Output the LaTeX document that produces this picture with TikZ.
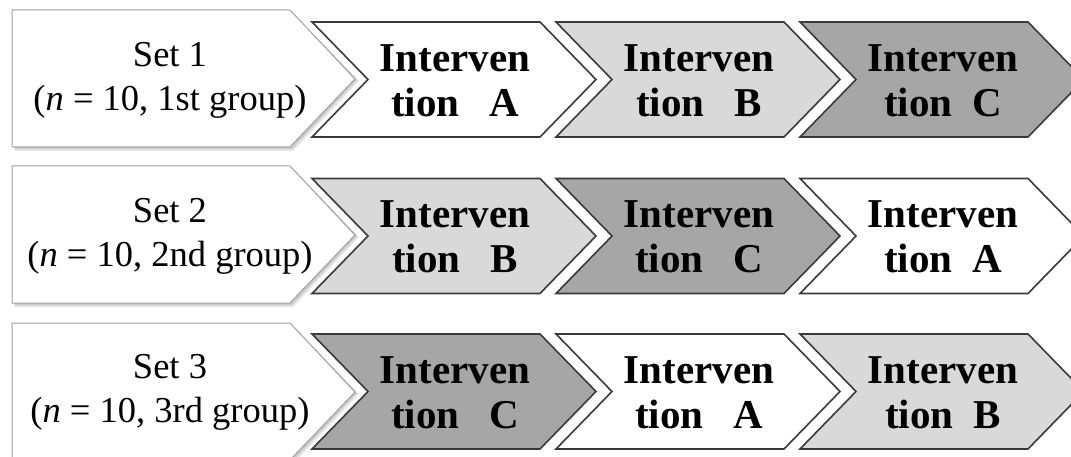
\documentclass[tikz,border=0pt]{standalone}
\usepackage{fontspec}
\setmainfont{Liberation Serif}
\definecolor{lightfill}{HTML}{D9D9D9}
\definecolor{darkfill}{HTML}{A6A6A6}
\definecolor{chevline}{HTML}{3A3A3A}
\definecolor{setline}{HTML}{A0A0A0}
\tikzset{
  chev/.style={draw=chevline, line width=1.6pt, line join=miter},
  setbox/.style={draw=setline, line width=1pt, fill=white},
  chevtext/.style={align=center, font=\fontsize{41}{45}\selectfont\bfseries, inner sep=0pt},
  settext/.style={align=center, font=\fontsize{36.5}{44}\selectfont, inner sep=0pt},
}
% #1 left x, #2 center y, #3 fill
\newcommand{\chevshape}[3]{%
  \path[chev, fill=#3] (#1,#2-57.5) -- (#1+228,#2-57.5) -- (#1+284,#2) -- (#1+228,#2+57.5)
    -- (#1,#2+57.5) -- (#1+56,#2) -- cycle;}
\newcommand{\setshape}[2]{%
  \fill[black, opacity=0.10] (15,#2-66) -- (293,#2-66) -- (359,#2+2) -- (293,#2+72) -- (15,#2+72) -- cycle;
  \fill[black, opacity=0.12] (14,#2-67) -- (292,#2-67) -- (357,#2+1) -- (292,#2+70) -- (14,#2+70) -- cycle;
  \path[setbox] (12,#2-69) -- (290,#2-69) -- (355,#2) -- (290,#2+68) -- (12,#2+68) -- cycle;}
\begin{document}
\begin{tikzpicture}[x=1pt, y=-1pt]
\useasboundingbox (0,0) rectangle (1071,457);
\clip (0,0) rectangle (1071,457);
% Row 1
\setshape{1}{79}
\chevshape{312}{79.5}{white}
\chevshape{556}{79.5}{lightfill}
\chevshape{800}{79.5}{darkfill}
\node[settext] (s1) at (170,80) {Set 1\\(\textit{n} = 10, 1st group)};
\node[chevtext] (r1a) at (455,80.5) {Interven\\tion\hspace{30pt}A};
\node[chevtext] (r1b) at (699,80.5) {Interven\\tion\hspace{30pt}B};
\node[chevtext] (r1c) at (943,80.5) {Interven\\tion\hspace{20pt}C};
% Row 2
\setshape{2}{235}
\chevshape{312}{236}{lightfill}
\chevshape{556}{236}{darkfill}
\chevshape{800}{236}{white}
\node[settext] (s2) at (170,236) {Set 2\\(\textit{n} = 10, 2nd group)};
\node[chevtext] (r2b) at (455,237) {Interven\\tion\hspace{30pt}B};
\node[chevtext] (r2c) at (699,237) {Interven\\tion\hspace{30pt}C};
\node[chevtext] (r2a) at (943,237) {Interven\\tion\hspace{20pt}A};
% Row 3
\setshape{3}{392}
\chevshape{312}{391.5}{darkfill}
\chevshape{556}{391.5}{white}
\chevshape{800}{391.5}{lightfill}
\node[settext] (s3) at (170,392) {Set 3\\(\textit{n} = 10, 3rd group)};
\node[chevtext] (r3c) at (455,392.5) {Interven\\tion\hspace{30pt}C};
\node[chevtext] (r3a) at (699,392.5) {Interven\\tion\hspace{30pt}A};
\node[chevtext] (r3b) at (943,392.5) {Interven\\tion\hspace{20pt}B};
\end{tikzpicture}
\end{document}
